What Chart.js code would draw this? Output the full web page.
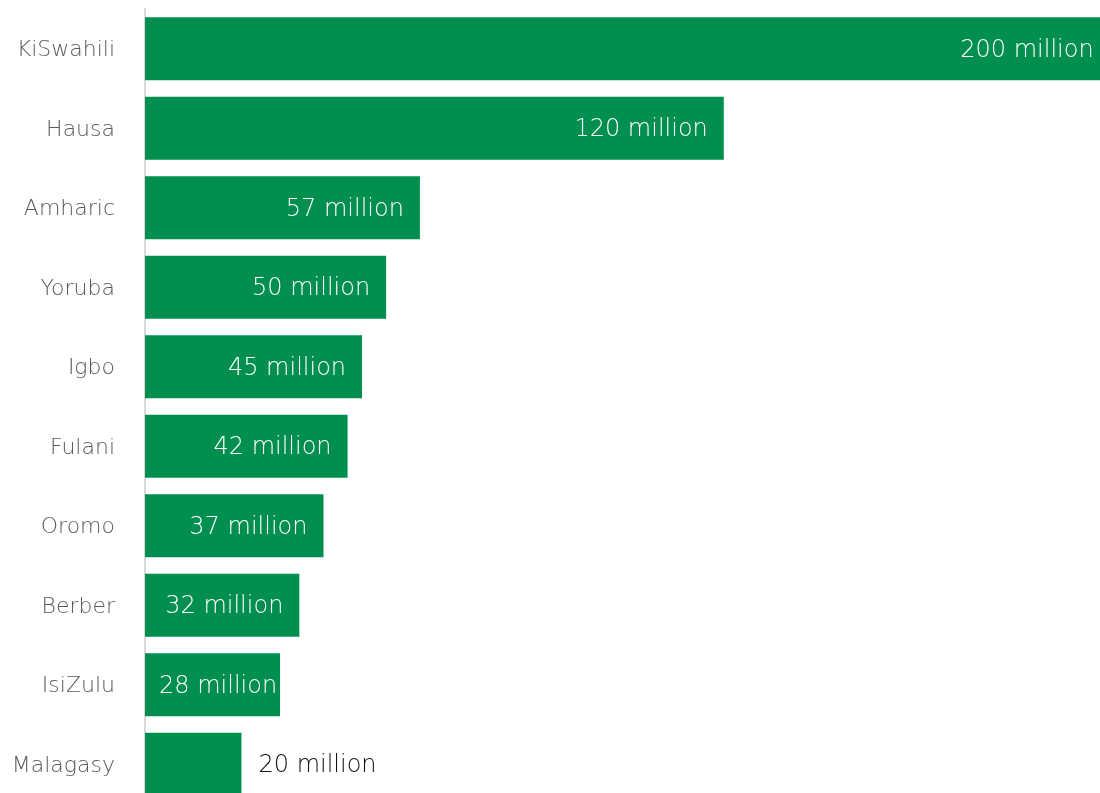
<!DOCTYPE html>
<html>
<head>
<meta charset="utf-8">
<script src="https://cdn.jsdelivr.net/npm/chart.js@4"></script>
<style>
  html, body { margin: 0; padding: 0; background: #fff; overflow: hidden; }
  #wrap { width: 1100px; height: 804px; }
</style>
</head>
<body>
<div id="wrap"><canvas id="c" width="1100" height="804"></canvas></div>
<script>
const languages = ["KiSwahili", "Hausa", "Amharic", "Yoruba", "Igbo", "Fulani", "Oromo", "Berber", "IsiZulu", "Malagasy"];
const speakers = [200, 120, 57, 50, 45, 42, 37, 32, 28, 20];
const valueLabels = ["200 million", "120 million", "57 million", "50 million", "45 million", "42 million", "37 million", "32 million", "28 million", "20 million"];

const FONT = "'DejaVu Sans ExtraLight', 'DejaVu Sans', sans-serif";

const labelPlugin = {
  id: 'valueLabels',
  afterDatasetsDraw(chart) {
    const ctx = chart.ctx;
    const meta = chart.getDatasetMeta(0);
    ctx.save();
    ctx.font = "200 24px " + FONT;
    ctx.textBaseline = 'middle';
    meta.data.forEach((bar, i) => {
      const text = valueLabels[i];
      const w = ctx.measureText(text).width;
      const barLen = bar.x - bar.base;
      ctx.textAlign = 'left';
      if (w + 14 <= barLen) {
        ctx.fillStyle = '#ffffff';
        const left = Math.max(bar.base + 14, bar.x - 16 - w);
        ctx.fillText(text, left, bar.y + 2);
      } else {
        ctx.fillStyle = '#111111';
        ctx.fillText(text, bar.x + 17, bar.y + 2);
      }
    });
    ctx.restore();
  }
};

new Chart(document.getElementById('c'), {
  type: 'bar',
  data: {
    labels: languages,
    datasets: [{
      data: speakers,
      backgroundColor: '#008f4f',
      borderWidth: 0,
      barPercentage: 0.79,
      categoryPercentage: 1.0
    }]
  },
  options: {
    indexAxis: 'y',
    responsive: false,
    animation: false,
    devicePixelRatio: 1,
    layout: { padding: { top: 9, right: 0, bottom: 0, left: 0 } },
    plugins: {
      legend: { display: false },
      tooltip: { enabled: false }
    },
    scales: {
      x: {
        display: false,
        min: 0,
        max: 198
      },
      y: {
        afterFit(scale) {
          scale.width = 145;
          scale.paddingTop = 0;
          scale.paddingBottom = 0;
        },
        grid: { display: false, drawTicks: false },
        border: { display: true, color: '#d9d9d9', width: 2 },
        ticks: {
          padding: 30,
          labelOffset: 2,
          color: '#595959',
          font: { family: FONT, size: 22, weight: 200 }
        }
      }
    }
  },
  plugins: [labelPlugin]
});
</script>
</body>
</html>
